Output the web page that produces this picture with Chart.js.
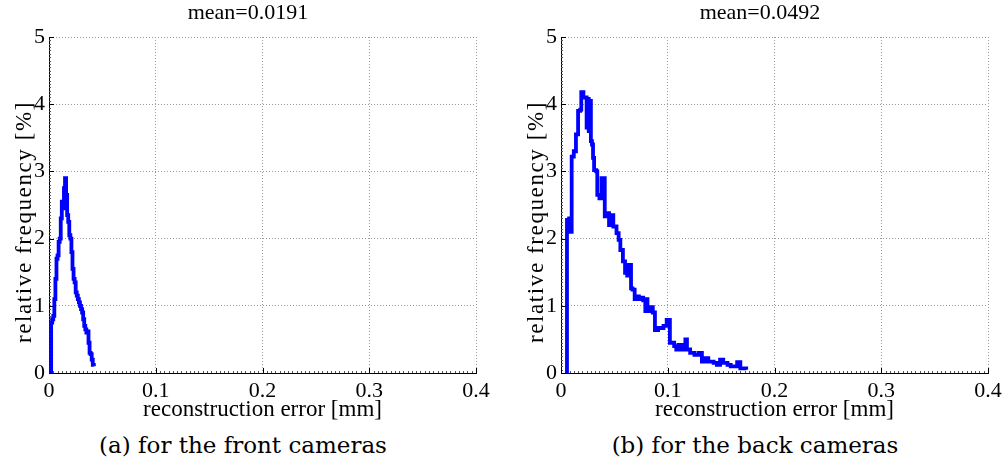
<!DOCTYPE html>
<html>
<head>
<meta charset="utf-8">
<script src="https://cdn.jsdelivr.net/npm/chart.js@4/dist/chart.umd.min.js"></script>
<style>
  body { margin: 0; background: #fff; width: 1008px; height: 471px; position: relative; overflow: hidden; }
  .panel { position: absolute; top: 0; width: 512px; height: 421px; }
  .caption { position: absolute; top: 432px; width: 486px; text-align: center;
             font-family: "DejaVu Serif", serif; font-size: 23px; color: #000; }
</style>
</head>
<body>
<div class="panel" style="left:0"><canvas id="front" width="512" height="421"></canvas></div>
<div class="panel" style="left:512px"><canvas id="back" width="512" height="421"></canvas></div>
<div class="caption" style="left:0">(a) for the front cameras</div>
<div class="caption" style="left:512px">(b) for the back cameras</div>
<script>
// histogram of reconstruction error, front cameras (bin left edge, % of points)
const frontX = [0.002, 0.002, 0.003, 0.004, 0.005, 0.006, 0.007, 0.008, 0.009, 0.010,
  0.011, 0.012, 0.013, 0.014, 0.015, 0.016, 0.017, 0.018, 0.019, 0.020,
  0.021, 0.022, 0.023, 0.024, 0.025, 0.026, 0.027, 0.028, 0.029, 0.030,
  0.031, 0.032, 0.033, 0.034, 0.035, 0.036, 0.037, 0.038, 0.039, 0.040, 0.041, 0.042];
const frontY = [0, 0.75, 0.80, 0.85, 1.10, 1.40, 1.70, 1.75, 1.95, 2.00,
  2.30, 2.55, 2.45, 2.75, 2.90, 2.65, 2.35, 2.25, 2.05, 2.00,
  1.80, 1.55, 1.40, 1.35, 1.20, 1.15, 1.10, 1.05, 1.00, 0.95,
  0.90, 0.80, 0.70, 0.65, 0.60, 0.62, 0.45, 0.30, 0.28, 0.20, 0.12, 0.10];

// same for the back cameras
const backX = [0.0056, 0.0056, 0.0066, 0.0076, 0.0086, 0.0100, 0.0120, 0.0140, 0.0160, 0.0180,
  0.0190, 0.0210, 0.0240, 0.0250, 0.0260, 0.0270, 0.0280, 0.0290, 0.0300, 0.0310,
  0.0330, 0.0340, 0.0360, 0.0380, 0.0410, 0.0430, 0.0450, 0.0470, 0.0490, 0.0520,
  0.0540, 0.0556, 0.0580, 0.0600, 0.0620, 0.0634, 0.0656, 0.0670, 0.0690, 0.0710,
  0.0730, 0.0750, 0.0770, 0.0790, 0.0800, 0.0810, 0.0840, 0.0860, 0.0880, 0.0910,
  0.0960, 0.0990, 0.1020, 0.1060, 0.1080, 0.1100, 0.1130, 0.1165, 0.1180, 0.1210,
  0.1250, 0.1290, 0.1320, 0.1350, 0.1380, 0.1430, 0.1460, 0.1490, 0.1520, 0.1560,
  0.1590, 0.1650, 0.1680, 0.1735];
const backY = [0, 2.28, 2.10, 2.30, 2.10, 3.22, 3.30, 3.55, 3.90, 3.92,
  4.18, 4.10, 3.65, 4.08, 3.60, 4.05, 3.45, 3.40, 3.20, 3.02,
  3.00, 2.65, 2.60, 2.90, 2.33, 2.38, 2.20, 2.35, 2.18, 2.08,
  1.98, 1.83, 1.66, 1.49, 1.45, 1.61, 1.26, 1.24, 1.10, 1.14,
  1.10, 1.12, 1.08, 0.92, 1.10, 0.92, 0.98, 0.90, 0.64, 0.67,
  0.70, 0.79, 0.45, 0.40, 0.35, 0.42, 0.35, 0.50, 0.35, 0.30,
  0.27, 0.30, 0.17, 0.22, 0.17, 0.15, 0.12, 0.20, 0.15, 0.12,
  0.10, 0.16, 0.07, 0.05];

const xTicks = [0, 0.1, 0.2, 0.3, 0.4];
const xTickLabels = ['0', '0.1', '0.2', '0.3', '0.4'];
const yTicks = [0, 1, 2, 3, 4, 5];
const yTickLabels = ['0', '1', '2', '3', '4', '5'];

const serif = '"Liberation Serif", "Times New Roman", serif';

// matlab style: inward major ticks, dense minor ticks, rotated y label
const axisDecor = {
  id: 'axisDecor',
  beforeDatasetsDraw(chart, args, opts) {
    const ctx = chart.ctx, a = chart.chartArea;
    const sx = chart.scales.x, sy = chart.scales.y;
    ctx.save();
    ctx.lineWidth = 1;
    ctx.strokeStyle = '#555';
    ctx.beginPath();
    for (let i = 1; i < 100; i++) {
      const px = Math.round(sx.getPixelForValue(i * 0.004)) + 0.5;
      ctx.moveTo(px, a.bottom); ctx.lineTo(px, a.bottom - 2);
    }
    for (let i = 1; i < 100; i++) {
      const py = Math.round(sy.getPixelForValue(i * 0.05)) + 0.5;
      ctx.moveTo(a.left, py); ctx.lineTo(a.left + 2, py);
    }
    ctx.stroke();
    ctx.strokeStyle = '#000';
    ctx.beginPath();
    xTicks.forEach(v => {
      const px = Math.round(sx.getPixelForValue(v)) + 0.5;
      ctx.moveTo(px, a.bottom); ctx.lineTo(px, a.bottom - 5);
    });
    yTicks.forEach(v => {
      const py = Math.round(sy.getPixelForValue(v)) + 0.5;
      ctx.moveTo(a.left, py); ctx.lineTo(a.left + 5, py);
    });
    ctx.stroke();
    ctx.restore();
  },
  afterDraw(chart, args, opts) {
    const ctx = chart.ctx;
    ctx.save();
    ctx.translate(opts.x, opts.y);
    ctx.rotate(-Math.PI / 2);
    ctx.font = '23px ' + serif;
    ctx.letterSpacing = '1.6px';
    ctx.fillStyle = '#000';
    ctx.textAlign = 'center';
    ctx.textBaseline = 'middle';
    ctx.fillText(opts.text, 0, 0);
    ctx.restore();
  }
};

function makeChart(id, xs, ys, title) {
  const ctx = document.getElementById(id).getContext('2d');
  return new Chart(ctx, {
    type: 'line',
    data: {
      datasets: [{
        data: xs.map((x, i) => ({ x: x, y: ys[i] })),
        borderColor: 'rgb(0, 0, 255)',
        borderWidth: 3.8,
        pointRadius: 0,
        stepped: 'before',
        fill: false
      }]
    },
    plugins: [axisDecor],
    options: {
      responsive: false,
      animation: false,
      layout: { padding: { left: 20, right: 36, top: 0, bottom: 0 } },
      plugins: {
        legend: { display: false },
        tooltip: { enabled: false },
        title: {
          display: true,
          text: title,
          color: '#000',
          font: { family: serif, size: 22, weight: 'normal' },
          padding: { top: 0, bottom: 10.6 }
        },
        axisDecor: { text: 'relative frequency [%]', x: 25, y: 222 }
      },
      scales: {
        x: {
          type: 'linear',
          min: 0,
          max: 0.4,
          afterBuildTicks: s => { s.ticks = xTicks.map(v => ({ value: v })); },
          afterFit: s => { s.height = 48; },
          ticks: {
            color: '#000',
            padding: 5,
            maxRotation: 0,
            font: { family: serif, size: 22 },
            callback: (v, i) => xTickLabels[i]
          },
          grid: { color: '#999', drawTicks: false },
          border: { color: '#000', width: 1, dash: [1, 2] },
          title: {
            display: true,
            text: 'reconstruction error [mm]',
            color: '#000',
            font: { family: serif, size: 23 },
            padding: { top: 0, bottom: -2.5 }
          }
        },
        y: {
          min: 0,
          max: 5,
          afterBuildTicks: s => { s.ticks = yTicks.map(v => ({ value: v })); },
          afterFit: s => { s.width = 29; },
          ticks: {
            color: '#000',
            padding: 4,
            font: { family: serif, size: 22 },
            callback: (v, i) => yTickLabels[i]
          },
          grid: { color: '#999', drawTicks: false },
          border: { color: '#000', width: 1, dash: [1, 2] }
        }
      }
    }
  });
}

window.addEventListener('load', () => {
  makeChart('front', frontX, frontY, 'mean=0.0191');
  makeChart('back', backX, backY, 'mean=0.0492');
});
</script>
</body>
</html>
